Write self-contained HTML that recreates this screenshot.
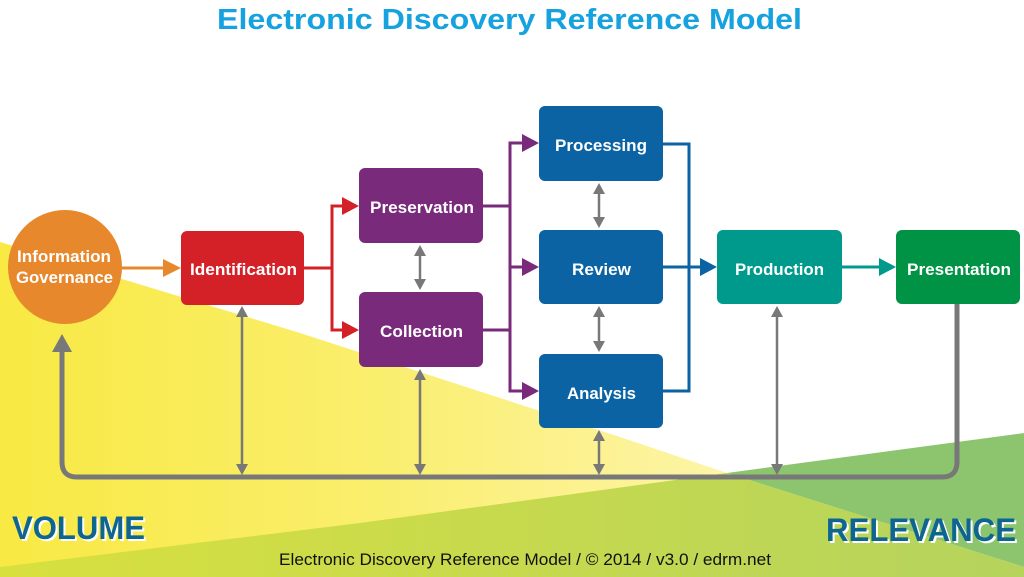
<!DOCTYPE html>
<html>
<head>
<meta charset="utf-8">
<style>
html,body{margin:0;padding:0;background:#fff;}
svg{display:block;}
text{font-family:"Liberation Sans",Arial,sans-serif;}
</style>
</head>
<body>
<svg width="1024" height="577" viewBox="0 0 1024 577" xmlns="http://www.w3.org/2000/svg">
<defs>
<linearGradient id="yel" gradientUnits="userSpaceOnUse" x1="0" y1="0" x2="730" y2="0">
<stop offset="0" stop-color="#f8e943"/>
<stop offset="0.5" stop-color="#faee6c"/>
<stop offset="1" stop-color="#fdf4a8"/>
</linearGradient>
<linearGradient id="lime" gradientUnits="userSpaceOnUse" x1="0" y1="0" x2="1024" y2="0">
<stop offset="0" stop-color="#d8e03e"/>
<stop offset="1" stop-color="#b5d35d"/>
</linearGradient>
</defs>

<!-- background shapes -->
<polygon points="0,242 300,333 620,437 727,473 1024,567 1024,577 0,577" fill="url(#yel)"/>
<polygon points="727,473 1024,433 1024,567" fill="#8dc56e"/>
<polygon points="0,567 360,523 727,473 1024,567 1024,577 0,577" fill="url(#lime)"/>

<!-- title -->
<text x="217" y="29" font-size="29" font-weight="bold" fill="#15a2df" textLength="585" lengthAdjust="spacingAndGlyphs">Electronic Discovery Reference Model</text>

<!-- thick gray feedback loop -->
<path d="M957 304 V462 Q957 477 942 477 H77 Q62 477 62 462 V349" fill="none" stroke="#787878" stroke-width="5"/>
<polygon points="62,334 52,352 72,352" fill="#787878"/>

<!-- thin gray double arrows -->
<g stroke="#787878" stroke-width="2.5" fill="none">
<line x1="242" y1="314" x2="242" y2="467"/>
<line x1="420" y1="253" x2="420" y2="282"/>
<line x1="420" y1="377" x2="420" y2="467"/>
<line x1="599" y1="191" x2="599" y2="220"/>
<line x1="599" y1="314" x2="599" y2="344"/>
<line x1="599" y1="438" x2="599" y2="467"/>
<line x1="777" y1="314" x2="777" y2="467"/>
</g>
<g fill="#787878">
<polygon points="242,306 236,317 248,317"/><polygon points="242,475 236,464 248,464"/>
<polygon points="420,245 414,256 426,256"/><polygon points="420,290 414,279 426,279"/>
<polygon points="420,369 414,380 426,380"/><polygon points="420,475 414,464 426,464"/>
<polygon points="599,183 593,194 605,194"/><polygon points="599,228 593,217 605,217"/>
<polygon points="599,306 593,317 605,317"/><polygon points="599,352 593,341 605,341"/>
<polygon points="599,430 593,441 605,441"/><polygon points="599,475 593,464 605,464"/>
<polygon points="777,306 771,317 783,317"/><polygon points="777,475 771,464 783,464"/>
</g>

<!-- orange arrow -->
<line x1="120" y1="268" x2="165" y2="268" stroke="#e8882c" stroke-width="3"/>
<polygon points="181,268 163,259 163,277" fill="#e8882c"/>

<!-- red connectors -->
<g stroke="#d42027" stroke-width="3" fill="none">
<polyline points="302,268 332,268"/>
<polyline points="344,206 332,206 332,330 344,330"/>
</g>
<g fill="#d42027">
<polygon points="359,206 342,197 342,215"/>
<polygon points="359,330 342,321 342,339"/>
</g>

<!-- purple connectors -->
<g stroke="#7a2a7b" stroke-width="3" fill="none">
<polyline points="481,206 510,206"/>
<polyline points="481,330 510,330"/>
<polyline points="524,143 510,143 510,391 524,391"/>
<polyline points="510,267 524,267"/>
</g>
<g fill="#7a2a7b">
<polygon points="539,143 522,134 522,152"/>
<polygon points="539,267 522,258 522,276"/>
<polygon points="539,391 522,382 522,400"/>
</g>

<!-- blue connectors -->
<g stroke="#0b63a3" stroke-width="3" fill="none">
<polyline points="661,144 689,144 689,391 661,391"/>
<polyline points="661,267 701,267"/>
</g>
<polygon points="717,267 700,258 700,276" fill="#0b63a3"/>

<!-- teal connector -->
<line x1="840" y1="267" x2="880" y2="267" stroke="#009a8c" stroke-width="3"/>
<polygon points="896,267 879,258 879,276" fill="#009a8c"/>

<!-- nodes -->
<circle cx="65" cy="267" r="57" fill="#e8882c"/>
<rect x="181" y="231" width="123" height="74" rx="6" fill="#d42027"/>
<rect x="359" y="168" width="124" height="75" rx="6" fill="#7a2a7b"/>
<rect x="359" y="292" width="124" height="75" rx="6" fill="#7a2a7b"/>
<rect x="539" y="106" width="124" height="75" rx="6" fill="#0b63a3"/>
<rect x="539" y="230" width="124" height="74" rx="6" fill="#0b63a3"/>
<rect x="539" y="354" width="124" height="74" rx="6" fill="#0b63a3"/>
<rect x="717" y="230" width="125" height="74" rx="6" fill="#009a8c"/>
<rect x="896" y="230" width="124" height="74" rx="6" fill="#009345"/>

<!-- node labels -->
<g fill="#ffffff" font-weight="bold" font-size="17">
<text x="17" y="262" textLength="94" lengthAdjust="spacingAndGlyphs">Information</text>
<text x="16" y="283" textLength="97" lengthAdjust="spacingAndGlyphs">Governance</text>
<text x="190" y="275" textLength="107" lengthAdjust="spacingAndGlyphs">Identification</text>
<text x="370" y="213" textLength="104" lengthAdjust="spacingAndGlyphs">Preservation</text>
<text x="380" y="337" textLength="83" lengthAdjust="spacingAndGlyphs">Collection</text>
<text x="555" y="151" textLength="92" lengthAdjust="spacingAndGlyphs">Processing</text>
<text x="572" y="275" textLength="59" lengthAdjust="spacingAndGlyphs">Review</text>
<text x="567" y="399" textLength="69" lengthAdjust="spacingAndGlyphs">Analysis</text>
<text x="735" y="275" textLength="89" lengthAdjust="spacingAndGlyphs">Production</text>
<text x="907" y="275" textLength="104" lengthAdjust="spacingAndGlyphs">Presentation</text>
</g>

<!-- VOLUME / RELEVANCE -->
<g font-weight="bold" font-size="32">
<text x="14" y="541" fill="#ffffff" textLength="133" lengthAdjust="spacingAndGlyphs">VOLUME</text>
<text x="12" y="539" fill="#0d6590" textLength="133" lengthAdjust="spacingAndGlyphs">VOLUME</text>
<text x="828" y="543" fill="#ffffff" textLength="190" lengthAdjust="spacingAndGlyphs">RELEVANCE</text>
<text x="826" y="541" fill="#0d6590" textLength="190" lengthAdjust="spacingAndGlyphs">RELEVANCE</text>
</g>

<!-- footer -->
<text x="279" y="565" font-size="17" fill="#111111" textLength="492" lengthAdjust="spacingAndGlyphs">Electronic Discovery Reference Model / © 2014 / v3.0 / edrm.net</text>
</svg>
</body>
</html>
